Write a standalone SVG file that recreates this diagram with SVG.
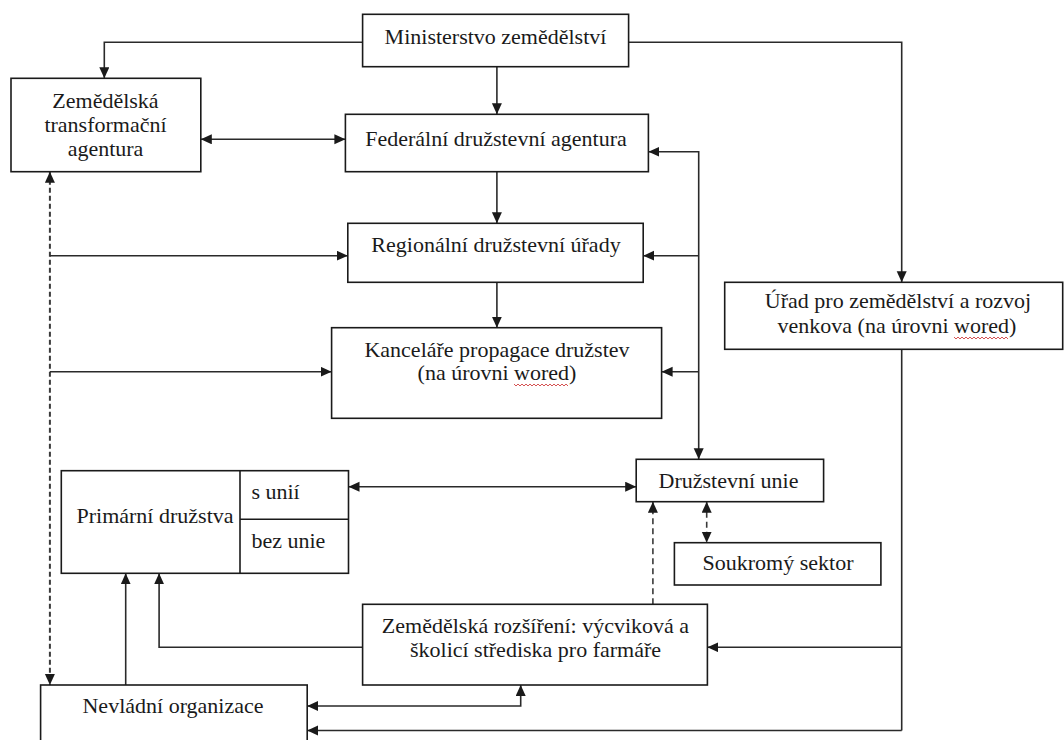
<svg xmlns="http://www.w3.org/2000/svg" width="1064" height="740" viewBox="0 0 1064 740">
<style>
.box{fill:#fff;stroke:#1a1a1a;stroke-width:1.6}
.t{font-family:"Liberation Serif","Times New Roman",serif;font-size:22px;fill:#1a1a1a;text-anchor:middle}
.ts{font-family:"Liberation Serif","Times New Roman",serif;font-size:22px;fill:#1a1a1a}
.c{fill:none;stroke:#2a2a2a;stroke-width:1.6}
.d{fill:none;stroke:#3a3a3a;stroke-width:2;stroke-dasharray:5 3}
.d2{fill:none;stroke:#3a3a3a;stroke-width:1.6;stroke-dasharray:6 4}
.spell{fill:none;stroke:#d04040;stroke-width:0.9}
</style>
<defs>
<marker id="ah" markerUnits="userSpaceOnUse" markerWidth="12" markerHeight="11" refX="11" refY="5" orient="auto-start-reverse" viewBox="0 0 12 11">
<path d="M0,0 L11,5 L0,10 z" fill="#1a1a1a"/>
</marker>
</defs>
<rect width="1064" height="740" fill="#fff"/>

<g id="connectors">
<!-- Ministerstvo to left/right -->
<polyline class="c" points="362.6,42.3 104.3,42.3 104.3,78.3" marker-end="url(#ah)"/>
<polyline class="c" points="628.6,42.3 901.7,42.3 901.7,282.3" marker-end="url(#ah)"/>
<!-- vertical chain -->
<line class="c" x1="496.9" y1="66.7" x2="496.9" y2="114.3" marker-end="url(#ah)"/>
<line class="c" x1="496.9" y1="171.7" x2="496.9" y2="223.3" marker-end="url(#ah)"/>
<line class="c" x1="496.9" y1="282.3" x2="496.9" y2="327.7" marker-end="url(#ah)"/>
<!-- Zemedelska <-> Federalni -->
<line class="c" x1="200.8" y1="139.3" x2="345.4" y2="139.3" marker-start="url(#ah)" marker-end="url(#ah)"/>
<!-- right trunk x=698.7 -->
<polyline class="c" points="648.4,151.7 698.7,151.7 698.7,459.3" marker-start="url(#ah)" marker-end="url(#ah)"/>
<line class="c" x1="698.7" y1="255.7" x2="643.2" y2="255.7" marker-end="url(#ah)"/>
<line class="c" x1="698.7" y1="371.7" x2="661.6" y2="371.7" marker-end="url(#ah)"/>
<!-- left dashed -->
<line class="d" x1="49.9" y1="171.7" x2="49.9" y2="685" marker-start="url(#ah)" marker-end="url(#ah)"/>
<line class="c" x1="49.9" y1="255.7" x2="347.8" y2="255.7" marker-end="url(#ah)"/>
<line class="c" x1="49.9" y1="371.7" x2="331.6" y2="371.7" marker-end="url(#ah)"/>
<!-- Primarni <-> Druzstevni unie -->
<line class="c" x1="348.5" y1="486.7" x2="636.2" y2="486.7" marker-start="url(#ah)" marker-end="url(#ah)"/>
<!-- dashed to Druzstevni unie -->
<line class="d2" x1="652.9" y1="604.3" x2="652.9" y2="501.7" marker-end="url(#ah)"/>
<line class="d2" x1="706.7" y1="501.7" x2="706.7" y2="542.7" marker-start="url(#ah)" marker-end="url(#ah)"/>
<!-- Urad down -->
<line class="c" x1="901.7" y1="349.3" x2="901.7" y2="730.5"/>
<line class="c" x1="901.7" y1="647.3" x2="707.4" y2="647.3" marker-end="url(#ah)"/>
<polyline class="c" points="901.7,730.5 307.2,730.5" marker-end="url(#ah)"/>
<!-- to Primarni bottom -->
<line class="c" x1="125.7" y1="685" x2="125.7" y2="573.3" marker-end="url(#ah)"/>
<polyline class="c" points="362.6,647.3 159.1,647.3 159.1,573.3" marker-end="url(#ah)"/>
<!-- Nevladni <-> Zemedelska rozsireni -->
<polyline class="c" points="307.2,706 520.7,706 520.7,685" marker-start="url(#ah)" marker-end="url(#ah)"/>
</g>

<g id="ministerstvo">
<rect class="box" x="362.6" y="14.3" width="266" height="52.4"/>
<text class="t" x="495.5" y="44">Ministerstvo zemědělství</text>
</g>
<g id="zemedelska-transformacni">
<rect class="box" x="11" y="78.3" width="189.8" height="93.4"/>
<text class="t" x="105.5" y="108.3">Zemědělská</text>
<text class="t" x="105.5" y="132">transformační</text>
<text class="t" x="105.5" y="155.5">agentura</text>
</g>
<g id="federalni">
<rect class="box" x="345.4" y="114.3" width="303" height="57.4"/>
<text class="t" x="496" y="146">Federální družstevní agentura</text>
</g>
<g id="regionalni">
<rect class="box" x="347.8" y="223.3" width="295.4" height="59"/>
<text class="t" x="496" y="252.3">Regionální družstevní úřady</text>
</g>
<g id="kancelare">
<rect class="box" x="331.6" y="327.7" width="330" height="90.6"/>
<text class="t" x="497" y="356.7">Kanceláře propagace družstev</text>
<text class="t" x="497" y="380">(na úrovni wored)</text>
<path class="spell" d="M514,384 l2,2 l2,-2 l2,2 l2,-2 l2,2 l2,-2 l2,2 l2,-2 l2,2 l2,-2 l2,2 l2,-2 l2,2 l2,-2 l2,2 l2,-2 l2,2 l2,-2 l2,2 l2,-2 l2,2 l2,-2 l2,2 l2,-2 l2,2 l2,-2 l2,2"/>
</g>
<g id="urad">
<rect class="box" x="724.7" y="282.3" width="338" height="67"/>
<text class="t" x="898" y="307.5">Úřad pro zemědělství a rozvoj</text>
<text class="t" x="897" y="333">venkova (na úrovni wored)</text>
<path class="spell" d="M954,337 l2,2 l2,-2 l2,2 l2,-2 l2,2 l2,-2 l2,2 l2,-2 l2,2 l2,-2 l2,2 l2,-2 l2,2 l2,-2 l2,2 l2,-2 l2,2 l2,-2 l2,2 l2,-2 l2,2 l2,-2 l2,2 l2,-2 l2,2 l2,-2 l2,2"/>
</g>
<g id="primarni">
<rect class="box" x="61.3" y="470.7" width="287.2" height="102.6"/>
<line class="box" x1="240" y1="470.7" x2="240" y2="573.3"/>
<line class="box" x1="240" y1="519.3" x2="348.5" y2="519.3"/>
<text class="t" x="155" y="523.3">Primární družstva</text>
<text class="ts" x="251.4" y="499.3">s unií</text>
<text class="ts" x="251.4" y="548.3">bez unie</text>
</g>
<g id="druzstevni-unie">
<rect class="box" x="636.2" y="459.3" width="187.4" height="42.4"/>
<text class="t" x="728.5" y="488.3">Družstevní unie</text>
</g>
<g id="soukromy">
<rect class="box" x="674.4" y="542.7" width="206.5" height="42.3"/>
<text class="t" x="778" y="570">Soukromý sektor</text>
</g>
<g id="zemedelska-rozsireni">
<rect class="box" x="362.6" y="604.3" width="344.8" height="80.7"/>
<text class="t" x="535.5" y="633">Zemědělská rozšíření: výcviková a</text>
<text class="t" x="535.5" y="657.3">školicí střediska pro farmáře</text>
</g>
<g id="nevladni">
<rect class="box" x="40.6" y="685" width="266.6" height="80"/>
<text class="t" x="173" y="713.3">Nevládní organizace</text>
</g>
</svg>
